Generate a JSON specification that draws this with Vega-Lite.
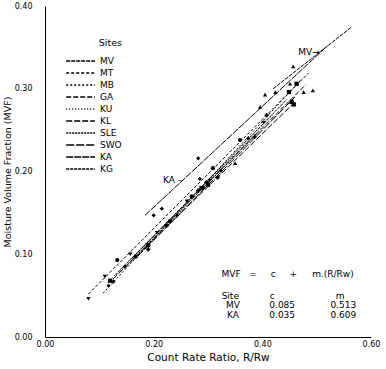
{
  "$schema": "https://vega.github.io/schema/vega-lite/v6.json",
  "width": 326,
  "height": 331,
  "autosize": {"type": "none"},
  "padding": {"left": 45, "top": 6, "right": 15, "bottom": 32},
  "background": "white",
  "config": {
    "view": {"stroke": null},
    "font": "DejaVu Sans",
    "axis": {"grid": false, "ticks": false, "domainColor": "black", "labelColor": "black", "titleColor": "black", "titleFontWeight": "normal", "labelOverlap": false, "labelFlush": false}
  },
  "datasets": {
    "lines": [
      {"site": "MV", "R": 0.42, "MVF": 0.300}, {"site": "MV", "R": 0.565, "MVF": 0.375},
      {"site": "MT", "R": 0.080, "MVF": 0.052}, {"site": "MT", "R": 0.485, "MVF": 0.319},
      {"site": "MB", "R": 0.107, "MVF": 0.053}, {"site": "MB", "R": 0.473, "MVF": 0.312},
      {"site": "GA", "R": 0.160, "MVF": 0.095}, {"site": "GA", "R": 0.480, "MVF": 0.305},
      {"site": "KU", "R": 0.115, "MVF": 0.066}, {"site": "KU", "R": 0.420, "MVF": 0.268},
      {"site": "KL", "R": 0.125, "MVF": 0.070}, {"site": "KL", "R": 0.457, "MVF": 0.282},
      {"site": "SLE", "R": 0.150, "MVF": 0.086}, {"site": "SLE", "R": 0.390, "MVF": 0.246},
      {"site": "SWO", "R": 0.170, "MVF": 0.097}, {"site": "SWO", "R": 0.460, "MVF": 0.290},
      {"site": "KA", "R": 0.184, "MVF": 0.147}, {"site": "KA", "R": 0.520, "MVF": 0.352},
      {"site": "KG", "R": 0.130, "MVF": 0.075}, {"site": "KG", "R": 0.445, "MVF": 0.287}
    ],
    "points": [
      {"set": "MV", "R": 0.396, "MVF": 0.278}, {"set": "MV", "R": 0.405, "MVF": 0.293}, {"set": "MV", "R": 0.424, "MVF": 0.296}, {"set": "MV", "R": 0.457, "MVF": 0.327}, {"set": "MV", "R": 0.451, "MVF": 0.306},
      {"set": "GA", "R": 0.476, "MVF": 0.296}, {"set": "GA", "R": 0.493, "MVF": 0.298}, {"set": "GA", "R": 0.350, "MVF": 0.210},
      {"set": "KA", "R": 0.200, "MVF": 0.147}, {"set": "KA", "R": 0.215, "MVF": 0.155}, {"set": "KA", "R": 0.282, "MVF": 0.216}, {"set": "KA", "R": 0.285, "MVF": 0.191},
      {"set": "MT", "R": 0.080, "MVF": 0.046}, {"set": "MT", "R": 0.110, "MVF": 0.073}, {"set": "MT", "R": 0.157, "MVF": 0.100}, {"set": "MT", "R": 0.206, "MVF": 0.126}, {"set": "MT", "R": 0.261, "MVF": 0.164}, {"set": "MT", "R": 0.303, "MVF": 0.189}, {"set": "MT", "R": 0.402, "MVF": 0.259},
      {"set": "MB", "R": 0.117, "MVF": 0.062}, {"set": "MB", "R": 0.126, "MVF": 0.067}, {"set": "MB", "R": 0.147, "MVF": 0.085}, {"set": "MB", "R": 0.243, "MVF": 0.147}, {"set": "MB", "R": 0.291, "MVF": 0.181}, {"set": "MB", "R": 0.324, "MVF": 0.201}, {"set": "MB", "R": 0.374, "MVF": 0.240},
      {"set": "KU", "R": 0.133, "MVF": 0.093}, {"set": "KU", "R": 0.167, "MVF": 0.097}, {"set": "KU", "R": 0.224, "MVF": 0.135}, {"set": "KU", "R": 0.270, "MVF": 0.170}, {"set": "KU", "R": 0.309, "MVF": 0.204},
      {"set": "KL", "R": 0.190, "MVF": 0.106}, {"set": "KL", "R": 0.282, "MVF": 0.177}, {"set": "KL", "R": 0.297, "MVF": 0.187}, {"set": "KL", "R": 0.318, "MVF": 0.193}, {"set": "KL", "R": 0.386, "MVF": 0.242}, {"set": "KL", "R": 0.408, "MVF": 0.268},
      {"set": "SLE", "R": 0.359, "MVF": 0.238}, {"set": "SLE", "R": 0.230, "MVF": 0.140},
      {"set": "SWO", "R": 0.288, "MVF": 0.180}, {"set": "SWO", "R": 0.300, "MVF": 0.184}, {"set": "SWO", "R": 0.454, "MVF": 0.284}, {"set": "SWO", "R": 0.458, "MVF": 0.281}, {"set": "SWO", "R": 0.449, "MVF": 0.296},
      {"set": "KG", "R": 0.463, "MVF": 0.306}, {"set": "KG", "R": 0.190, "MVF": 0.111}, {"set": "KG", "R": 0.120, "MVF": 0.068}
    ],
    "xticks": [
      {"R": 0}, {"R": 0.02}, {"R": 0.04}, {"R": 0.06}, {"R": 0.08}, {"R": 0.1}, {"R": 0.12}, {"R": 0.14}, {"R": 0.16}, {"R": 0.18}, {"R": 0.2}, {"R": 0.22}, {"R": 0.24}, {"R": 0.26}, {"R": 0.28}, {"R": 0.3}, {"R": 0.32}, {"R": 0.34}, {"R": 0.36}, {"R": 0.38}, {"R": 0.4}, {"R": 0.42}, {"R": 0.44}, {"R": 0.46}, {"R": 0.48}, {"R": 0.5}, {"R": 0.52}, {"R": 0.54}, {"R": 0.56}, {"R": 0.58}, {"R": 0.6}
    ],
    "yticks": [
      {"MVF": 0}, {"MVF": 0.01}, {"MVF": 0.02}, {"MVF": 0.03}, {"MVF": 0.04}, {"MVF": 0.05}, {"MVF": 0.06}, {"MVF": 0.07}, {"MVF": 0.08}, {"MVF": 0.09}, {"MVF": 0.1}, {"MVF": 0.11}, {"MVF": 0.12}, {"MVF": 0.13}, {"MVF": 0.14}, {"MVF": 0.15}, {"MVF": 0.16}, {"MVF": 0.17}, {"MVF": 0.18}, {"MVF": 0.19}, {"MVF": 0.2}, {"MVF": 0.21}, {"MVF": 0.22}, {"MVF": 0.23}, {"MVF": 0.24}, {"MVF": 0.25}, {"MVF": 0.26}, {"MVF": 0.27}, {"MVF": 0.28}, {"MVF": 0.29}, {"MVF": 0.3}, {"MVF": 0.31}, {"MVF": 0.32}, {"MVF": 0.33}, {"MVF": 0.34}, {"MVF": 0.35}, {"MVF": 0.36}, {"MVF": 0.37}, {"MVF": 0.38}, {"MVF": 0.39}, {"MVF": 0.4}
    ],
    "notes": [
      {"label": "MVF", "R": 0.3425, "MVF": 0.076},
      {"label": "=", "R": 0.383, "MVF": 0.076},
      {"label": "c", "R": 0.420, "MVF": 0.076},
      {"label": "+", "R": 0.457, "MVF": 0.076},
      {"label": "m.(R/Rw)", "R": 0.530, "MVF": 0.076},
      {"label": "Site", "R": 0.341, "MVF": 0.050},
      {"label": "c", "R": 0.418, "MVF": 0.050},
      {"label": "m", "R": 0.543, "MVF": 0.050},
      {"label": "MV", "R": 0.346, "MVF": 0.0385},
      {"label": "0.085", "R": 0.4365, "MVF": 0.0385},
      {"label": "0.513", "R": 0.549, "MVF": 0.0385},
      {"label": "KA", "R": 0.346, "MVF": 0.0265},
      {"label": "0.035", "R": 0.4365, "MVF": 0.0265},
      {"label": "0.609", "R": 0.549, "MVF": 0.0265},
      {"label": "KA –", "R": 0.235, "MVF": 0.190},
      {"label": "MV→", "R": 0.486, "MVF": 0.344}
    ]
  },
  "encoding": {
    "x": {"field": "R", "type": "quantitative", "scale": {"domain": [0, 0.6], "nice": false, "zero": false},
      "axis": {"title": "Count Rate Ratio, R/Rw", "titleFontSize": 10.5, "titlePadding": 4, "labelFontSize": 8,
        "values": [0, 0.2, 0.4, 0.6], "format": ".2f", "ticks": false, "labelPadding": 3}},
    "y": {"field": "MVF", "type": "quantitative", "scale": {"domain": [0, 0.4], "nice": false, "zero": false},
      "axis": {"title": "Moisture Volume Fraction (MVF)", "titleFontSize": 9.5, "titlePadding": 2, "labelFontSize": 8,
        "values": [0, 0.1, 0.2, 0.3, 0.4], "format": ".2f", "ticks": false, "labelPadding": 13}}
  },
  "layer": [
    {
      "data": {"name": "xticks"},
      "mark": {"type": "point", "shape": "M 0 0 L 0 -1", "size": 64, "filled": false, "stroke": "black", "strokeWidth": 1, "opacity": 1},
      "encoding": {"y": {"datum": 0}}
    },
    {
      "data": {"name": "yticks"},
      "mark": {"type": "point", "shape": "M 0 0 L -1 0", "size": 64, "filled": false, "stroke": "black", "strokeWidth": 1, "opacity": 1},
      "encoding": {"x": {"datum": 0}}
    },
    {
      "data": {"name": "lines"},
      "mark": {"type": "line", "color": "black", "strokeWidth": 1},
      "encoding": {
        "strokeDash": {"field": "site", "type": "nominal",
          "scale": {"domain": ["MV", "MT", "MB", "GA", "KU", "KL", "SLE", "SWO", "KA", "KG"],
            "range": [[4, 1], [3, 2], [2, 2], [5, 2], [1, 2], [6, 2], [2, 1], [8, 2], [7, 1], [3, 1]]},
          "legend": {"title": "Sites", "orient": "none", "legendX": 40, "legendY": 32, "titleAnchor": "end", "titleFontSize": 9.5, "titleFontWeight": "normal", "titlePadding": 8,
            "labelFontSize": 9, "labelColor": "black", "titleColor": "black", "symbolType": "M -5.4 0 L 1 0", "symbolSize": 81, "symbolStrokeWidth": 1.5, "symbolStrokeColor": "black", "rowPadding": 1, "labelOffset": 4, "padding": 0}}
      }
    },
    {
      "data": {"name": "points"},
      "mark": {"type": "point", "filled": true, "color": "black", "size": 18, "opacity": 1},
      "encoding": {
        "shape": {"field": "set", "type": "nominal",
          "scale": {"domain": ["GA", "KA", "KG", "KL", "KU", "MB", "MT", "MV", "SLE", "SWO"],
            "range": ["triangle-up", "diamond", "square", "cross", "circle", "diamond", "triangle-down", "triangle-up", "circle", "square"]},
          "legend": null}
      }
    },
    {
      "data": {"name": "notes"},
      "mark": {"type": "text", "fontSize": 9, "color": "black", "align": "center", "baseline": "middle"},
      "encoding": {
        "text": {"field": "label"}
      }
    }
  ]
}
